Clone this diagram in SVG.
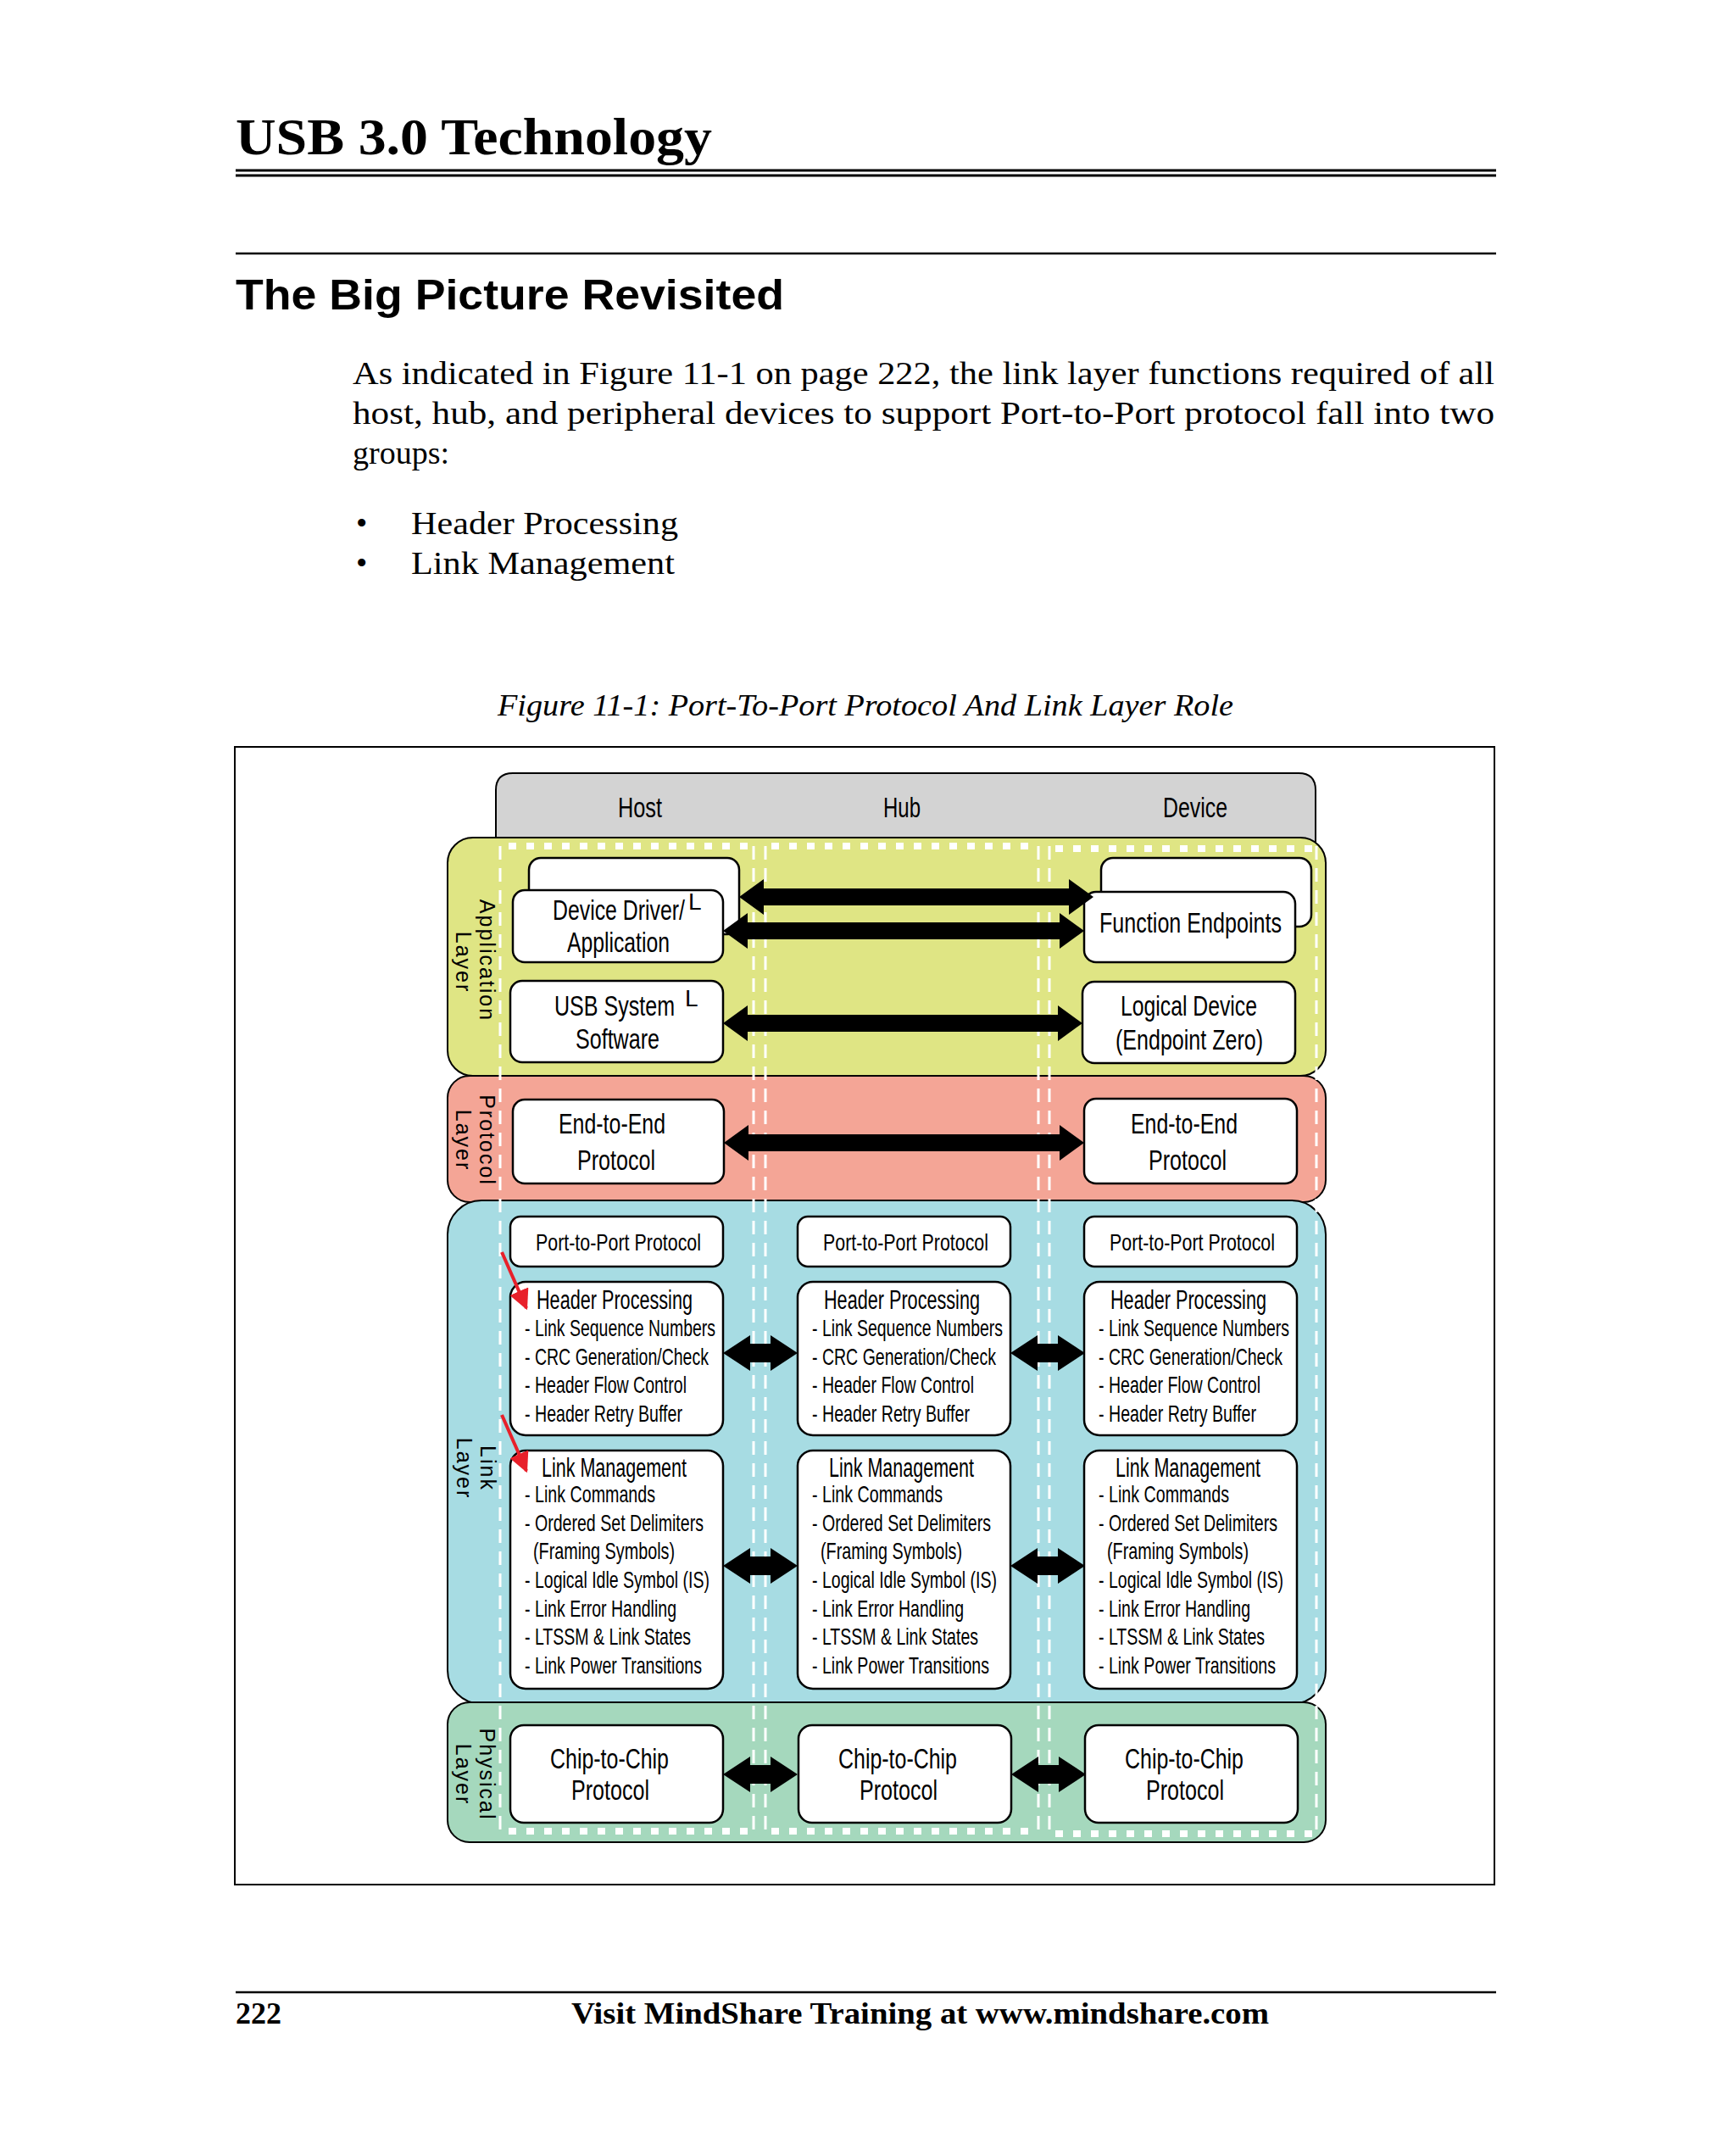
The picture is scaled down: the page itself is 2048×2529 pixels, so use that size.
<svg xmlns="http://www.w3.org/2000/svg" width="2048" height="2529" viewBox="0 0 2048 2529">
<style>
.bx{fill:#fff;stroke:#000;stroke-width:2.5}
.ly{stroke:#000;stroke-width:2}
.c{font-family:"Liberation Sans",Arial,sans-serif;font-size:34px;fill:#000}
.s{font-family:"Liberation Sans",Arial,sans-serif;font-size:28px;fill:#000}
.t{font-family:"Liberation Sans",Arial,sans-serif;font-size:31px;fill:#000}
.v{font-family:"Liberation Sans",Arial,sans-serif;font-size:25px;fill:#000;letter-spacing:2px}
.m{text-anchor:middle}
.dl{stroke:#fff;stroke-width:3;stroke-dasharray:16 10;fill:none}
.dh{stroke:#fff;stroke-width:8;stroke-dasharray:9 12;fill:none}
.ar{fill:#000}
.serif{font-family:"Liberation Serif","Times New Roman",serif;fill:#000}
</style>
<defs>
<marker id="rh" viewBox="0 0 10 10" refX="9" refY="5" markerWidth="6" markerHeight="6" orient="auto" markerUnits="strokeWidth">
<path d="M0 0 L10 5 L0 10 Z" fill="#e8202a"/>
</marker>
<g id="p2p">
<rect class="bx" x="602" y="1435" width="251" height="59" rx="12"/>
<text class="s" x="632" y="1475" textLength="195" lengthAdjust="spacingAndGlyphs">Port-to-Port Protocol</text>
</g>
<g id="hp">
<rect class="bx" x="602" y="1512" width="251" height="181" rx="18"/>
<text class="t" x="633" y="1544" textLength="184" lengthAdjust="spacingAndGlyphs">Header Processing</text>
<text class="s" x="619" y="1576" textLength="225" lengthAdjust="spacingAndGlyphs">- Link Sequence Numbers</text>
<text class="s" x="619" y="1610" textLength="217" lengthAdjust="spacingAndGlyphs">- CRC Generation/Check</text>
<text class="s" x="619" y="1643" textLength="191" lengthAdjust="spacingAndGlyphs">- Header Flow Control</text>
<text class="s" x="619" y="1677" textLength="186" lengthAdjust="spacingAndGlyphs">- Header Retry Buffer</text>
</g>
<g id="lm">
<rect class="bx" x="602" y="1711" width="251" height="281" rx="18"/>
<text class="t" x="639" y="1742" textLength="171" lengthAdjust="spacingAndGlyphs">Link Management</text>
<text class="s" x="619" y="1772" textLength="154" lengthAdjust="spacingAndGlyphs">- Link Commands</text>
<text class="s" x="619" y="1806" textLength="211" lengthAdjust="spacingAndGlyphs">- Ordered Set Delimiters</text>
<text class="s" x="629" y="1839" textLength="167" lengthAdjust="spacingAndGlyphs">(Framing Symbols)</text>
<text class="s" x="619" y="1873" textLength="218" lengthAdjust="spacingAndGlyphs">- Logical Idle Symbol (IS)</text>
<text class="s" x="619" y="1907" textLength="179" lengthAdjust="spacingAndGlyphs">- Link Error Handling</text>
<text class="s" x="619" y="1940" textLength="196" lengthAdjust="spacingAndGlyphs">- LTSSM &amp; Link States</text>
<text class="s" x="619" y="1974" textLength="209" lengthAdjust="spacingAndGlyphs">- Link Power Transitions</text>
</g>
<g id="c2c">
<rect class="bx" x="602" y="2035" width="251" height="115" rx="16"/>
<text class="c" x="649" y="2086" textLength="140" lengthAdjust="spacingAndGlyphs">Chip-to-Chip</text>
<text class="c" x="674" y="2123" textLength="92" lengthAdjust="spacingAndGlyphs">Protocol</text>
</g>
</defs>
<rect width="2048" height="2529" fill="#fff"/>

<g id="page">
<text class="serif" x="278" y="182" font-size="62" font-weight="bold" textLength="562" lengthAdjust="spacingAndGlyphs">USB 3.0 Technology</text>
<line x1="278" y1="201" x2="1765" y2="201" stroke="#000" stroke-width="3"/>
<line x1="278" y1="207" x2="1765" y2="207" stroke="#000" stroke-width="3"/>
<line x1="278" y1="299" x2="1765" y2="299" stroke="#000" stroke-width="2.5"/>
<text x="278" y="365" font-family="Liberation Sans,Arial,sans-serif" font-size="50" font-weight="bold" textLength="647" lengthAdjust="spacingAndGlyphs">The Big Picture Revisited</text>
<text class="serif" x="416" y="453" font-size="38" textLength="1347" lengthAdjust="spacingAndGlyphs">As indicated in Figure 11-1 on page 222, the link layer functions required of all</text>
<text class="serif" x="416" y="500" font-size="38" textLength="1347" lengthAdjust="spacingAndGlyphs">host, hub, and peripheral devices to support Port-to-Port protocol fall into two</text>
<text class="serif" x="416" y="547" font-size="38">groups:</text>
<text class="serif" x="420" y="630" font-size="38">•</text>
<text class="serif" x="485" y="630" font-size="38" textLength="315" lengthAdjust="spacingAndGlyphs">Header Processing</text>
<text class="serif" x="420" y="677" font-size="38">•</text>
<text class="serif" x="485" y="677" font-size="38" textLength="311" lengthAdjust="spacingAndGlyphs">Link Management</text>
<text class="serif" x="587" y="844" font-size="36" font-style="italic" textLength="868" lengthAdjust="spacingAndGlyphs">Figure 11-1: Port-To-Port Protocol And Link Layer Role</text>
<rect x="277" y="881" width="1486" height="1342" fill="none" stroke="#000" stroke-width="2"/>
<line x1="278" y1="2350" x2="1765" y2="2350" stroke="#000" stroke-width="2.5"/>
<text class="serif" x="278" y="2387" font-size="36" font-weight="bold">222</text>
<text class="serif" x="674" y="2387" font-size="36" font-weight="bold" textLength="823" lengthAdjust="spacingAndGlyphs">Visit MindShare Training at www.mindshare.com</text>
</g>

<g id="header">
<path d="M585 1000 L585 932 Q585 912 605 912 L1532 912 Q1552 912 1552 932 L1552 1000 Z" fill="#d3d3d3" class="ly"/>
<text class="c m" x="755" y="964" textLength="52" lengthAdjust="spacingAndGlyphs">Host</text>
<text class="c m" x="1064" y="964" textLength="44" lengthAdjust="spacingAndGlyphs">Hub</text>
<text class="c m" x="1410" y="964" textLength="76" lengthAdjust="spacingAndGlyphs">Device</text>
</g>
<g id="application-layer">
<rect x="528" y="988" width="1036" height="281" rx="30" fill="#dfe584" class="ly"/>
<text class="v m" transform="translate(566 1133) rotate(90)">Application</text>
<text class="v m" transform="translate(538 1135) rotate(90)">Layer</text>
</g>
<g id="protocol-layer">
<rect x="528" y="1269" width="1036" height="149" rx="26" fill="#f4a596" class="ly"/>
<text class="v m" transform="translate(566 1345) rotate(90)">Protocol</text>
<text class="v m" transform="translate(538 1345) rotate(90)">Layer</text>
</g>
<g id="link-layer">
<rect x="528" y="1416" width="1036" height="594" rx="40" fill="#a7dce3" class="ly"/>
<text class="v m" transform="translate(567 1732) rotate(90)">Link</text>
<text class="v m" transform="translate(539 1732) rotate(90)">Layer</text>
</g>
<g id="physical-layer">
<rect x="528" y="2008" width="1036" height="165" rx="26" fill="#a5d8bd" class="ly"/>
<text class="v m" transform="translate(566 2093) rotate(90)">Physical</text>
<text class="v m" transform="translate(538 2093) rotate(90)">Layer</text>
</g>

<g id="columns">
<path class="dl" d="M590 998 V2160 M889 998 V2160 M903 998 V2160 M1225 998 V2160 M1238 998 V2163 M1553 998 V2163"/>
<path class="dh" d="M600 998 H884 M910 998 H1220 M1245 1001 H1550 M600 2160 H884 M910 2160 H1220 M1245 2163 H1550"/>
</g>

<g id="host-app">
<rect class="bx" x="624" y="1012" width="248" height="90" rx="14"/>
<rect class="bx" x="605" y="1050" width="248" height="85" rx="14"/>
<text class="c" x="652" y="1085" textLength="156" lengthAdjust="spacingAndGlyphs">Device Driver/</text>
<text class="s" x="812" y="1073" font-size="18">L</text>
<text class="c" x="669" y="1123" textLength="121" lengthAdjust="spacingAndGlyphs">Application</text>
</g>
<g id="device-func">
<rect class="bx" x="1299" y="1012" width="248" height="81" rx="14"/>
<rect class="bx" x="1279" y="1052" width="249" height="83" rx="14"/>
<text class="c" x="1297" y="1100" textLength="215" lengthAdjust="spacingAndGlyphs">Function Endpoints</text>
</g>
<g id="host-usbsw">
<rect class="bx" x="602" y="1157" width="251" height="96" rx="14"/>
<text class="c" x="654" y="1198" textLength="142" lengthAdjust="spacingAndGlyphs">USB System</text>
<text class="s" x="808" y="1187" font-size="18">L</text>
<text class="c" x="679" y="1237" textLength="99" lengthAdjust="spacingAndGlyphs">Software</text>
</g>
<g id="device-logical">
<rect class="bx" x="1277" y="1158" width="251" height="96" rx="14"/>
<text class="c" x="1322" y="1198" textLength="161" lengthAdjust="spacingAndGlyphs">Logical Device</text>
<text class="c" x="1316" y="1238" textLength="174" lengthAdjust="spacingAndGlyphs">(Endpoint Zero)</text>
</g>
<g id="host-e2e">
<rect class="bx" x="605" y="1297" width="249" height="99" rx="14"/>
<text class="c" x="659" y="1337" textLength="126" lengthAdjust="spacingAndGlyphs">End-to-End</text>
<text class="c" x="681" y="1380" textLength="92" lengthAdjust="spacingAndGlyphs">Protocol</text>
</g>
<g id="device-e2e">
<rect class="bx" x="1279" y="1296" width="251" height="100" rx="14"/>
<text class="c" x="1334" y="1337" textLength="126" lengthAdjust="spacingAndGlyphs">End-to-End</text>
<text class="c" x="1355" y="1380" textLength="92" lengthAdjust="spacingAndGlyphs">Protocol</text>
</g>
<g id="host-p2p"><use href="#p2p"/></g>
<g id="hub-p2p"><use href="#p2p" x="339"/></g>
<g id="device-p2p"><use href="#p2p" x="677"/></g>
<g id="host-header"><use href="#hp"/></g>
<g id="hub-header"><use href="#hp" x="339"/></g>
<g id="device-header"><use href="#hp" x="677"/></g>
<g id="host-linkmgmt"><use href="#lm"/></g>
<g id="hub-linkmgmt"><use href="#lm" x="339"/></g>
<g id="device-linkmgmt"><use href="#lm" x="677"/></g>
<g id="host-c2c"><use href="#c2c"/></g>
<g id="hub-c2c"><use href="#c2c" x="340"/></g>
<g id="device-c2c"><use href="#c2c" x="678"/></g>

<g id="connectors">
<path class="ar" d="M872 1058 L901 1037 L901 1048 L1261 1048 L1261 1037 L1290 1058 L1261 1079 L1261 1068 L901 1068 L901 1079Z"/>
<path class="ar" d="M853 1098 L882 1077 L882 1088 L1250 1088 L1250 1077 L1279 1098 L1250 1119 L1250 1108 L882 1108 L882 1119Z"/>
<path class="ar" d="M853 1207 L882 1186 L882 1197 L1248 1197 L1248 1186 L1277 1207 L1248 1228 L1248 1217 L882 1217 L882 1228Z"/>
<path class="ar" d="M854 1348 L883 1327 L883 1338 L1250 1338 L1250 1327 L1279 1348 L1250 1369 L1250 1358 L883 1358 L883 1369Z"/>
<path class="ar" d="M853 1596 L885 1575 L885 1585 L909 1585 L909 1575 L941 1596 L909 1617 L909 1607 L885 1607 L885 1617Z"/>
<path class="ar" d="M1192 1596 L1224 1575 L1224 1585 L1248 1585 L1248 1575 L1280 1596 L1248 1617 L1248 1607 L1224 1607 L1224 1617Z"/>
<path class="ar" d="M853 1847 L885 1826 L885 1836 L909 1836 L909 1826 L941 1847 L909 1868 L909 1858 L885 1858 L885 1868Z"/>
<path class="ar" d="M1192 1847 L1224 1826 L1224 1836 L1248 1836 L1248 1826 L1280 1847 L1248 1868 L1248 1858 L1224 1858 L1224 1868Z"/>
<path class="ar" d="M853 2093 L885 2072 L885 2082 L909 2082 L909 2072 L941 2093 L909 2114 L909 2104 L885 2104 L885 2114Z"/>
<path class="ar" d="M1193 2093 L1225 2072 L1225 2082 L1249 2082 L1249 2072 L1281 2093 L1249 2114 L1249 2104 L1225 2104 L1225 2114Z"/>
<line x1="592" y1="1477" x2="621" y2="1543" stroke="#e8202a" stroke-width="4" marker-end="url(#rh)"/>
<line x1="592" y1="1669" x2="621" y2="1735" stroke="#e8202a" stroke-width="4" marker-end="url(#rh)"/>
</g>
</svg>
